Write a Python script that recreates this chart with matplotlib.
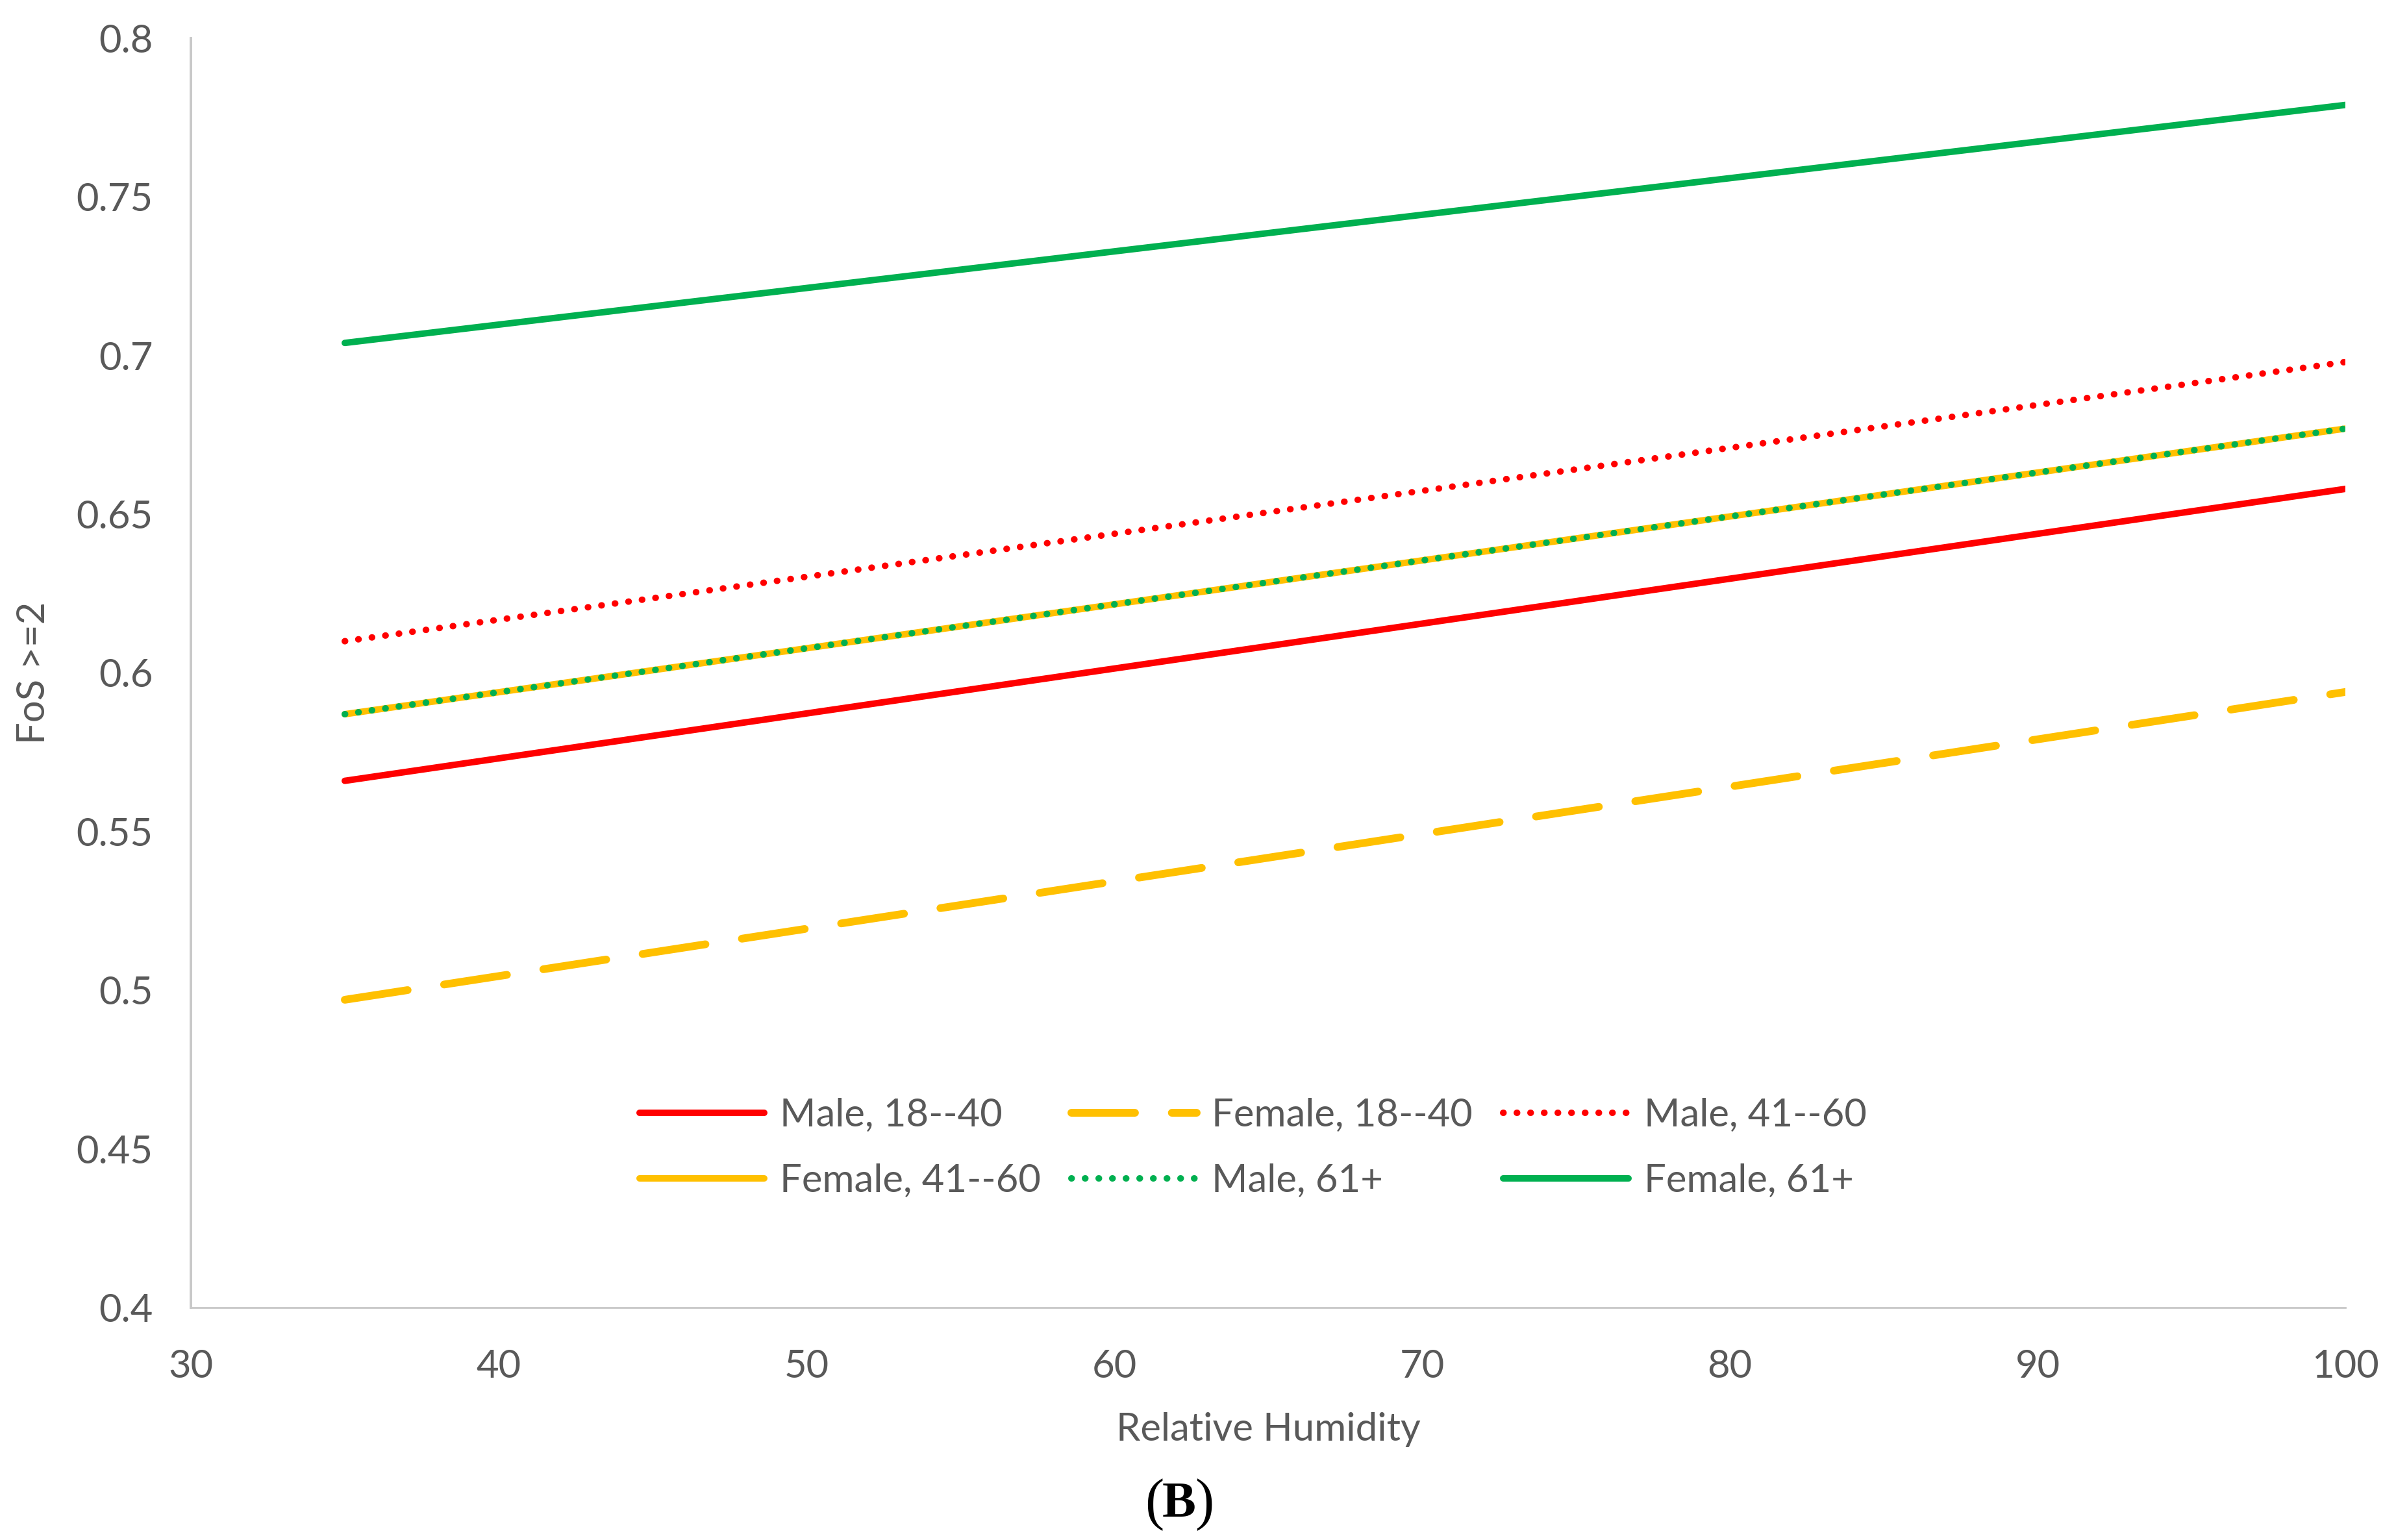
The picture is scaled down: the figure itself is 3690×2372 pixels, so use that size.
import matplotlib
matplotlib.use("Agg")
import matplotlib.pyplot as plt
import numpy as np

plt.rcParams['font.family'] = ['Lato', 'DejaVu Sans']

# ---- data ----
humidity = [35, 100]
series_labels = ["Male, 18--40", "Female, 18--40", "Male, 41--60",
                 "Female, 41--60", "Male, 61+", "Female, 61+"]
male_18_40 = [0.566, 0.658]
female_18_40 = [0.497, 0.594]
male_41_60 = [0.610, 0.698]
female_41_60 = [0.587, 0.677]
male_61 = [0.587, 0.677]
female_61 = [0.704, 0.779]
x_ticks = [30, 40, 50, 60, 70, 80, 90, 100]
y_ticks = [0.4, 0.45, 0.5, 0.55, 0.6, 0.65, 0.7, 0.75, 0.8]
y_tick_labels = ["0.4", "0.45", "0.5", "0.55", "0.6", "0.65", "0.7", "0.75", "0.8"]

RED = "#FF0000"
ORANGE = "#FFC000"
GREEN = "#00B050"
TXT = "#595959"

W, H = 3690, 2372
fig = plt.figure(figsize=(W / 100, H / 100), dpi=100)
ax = fig.add_axes([294 / W, 1 - 2014 / H, (3612 - 294) / W, (2014 - 59) / H])

lw = 7.2
h1, = ax.plot(humidity, male_18_40, color=RED, lw=lw, solid_capstyle='round',
              label=series_labels[0])
h2, = ax.plot(humidity, female_18_40, color=ORANGE, lw=8.6, dash_capstyle='round',
              dashes=(8.2, 4.75), label=series_labels[1])
h3, = ax.plot(humidity, male_41_60, color=RED, lw=lw, dash_capstyle='round',
              dashes=(0.05, 2.05), label=series_labels[2])
h4, = ax.plot(humidity, female_41_60, color=ORANGE, lw=lw, solid_capstyle='round',
              label=series_labels[3])
h5, = ax.plot(humidity, male_61, color=GREEN, lw=lw, dash_capstyle='round',
              dashes=(0.05, 2.05), label=series_labels[4])
h6, = ax.plot(humidity, female_61, color=GREEN, lw=lw, solid_capstyle='round',
              label=series_labels[5])

ax.set_xlim(30, 100)
ax.set_ylim(0.4, 0.8)
ax.set_xticks(x_ticks)
ax.set_xticklabels([str(v) for v in x_ticks])
ax.set_yticks(y_ticks)
ax.set_yticklabels(y_tick_labels)

fs = 43
ax.tick_params(axis='both', length=0, labelsize=fs, labelcolor=TXT)
ax.tick_params(axis='y', pad=42)
ax.tick_params(axis='x', pad=46)

for s in ['top', 'right']:
    ax.spines[s].set_visible(False)
ax.spines['left'].set_color('#C8C8C8')
ax.spines['left'].set_linewidth(2.8)
ax.spines['bottom'].set_color('#C8C8C8')
ax.spines['bottom'].set_linewidth(2.0)

ax.set_xlabel("Relative Humidity", fontsize=fs, color=TXT, labelpad=31)
ax.set_ylabel("FoS >=2", fontsize=fs, color=TXT, va='center')
ax.yaxis.set_label_coords(-0.0729, 0.5)

handles = [h1, h4, h2, h5, h3, h6]
leg = ax.legend(handles=handles, labels=[h.get_label() for h in handles],
                loc='upper left', bbox_to_anchor=(985 / W, 1 - 1691 / H),
                bbox_transform=fig.transFigure, ncol=3, frameon=False,
                borderpad=0, borderaxespad=0, handlelength=3.22,
                handletextpad=0.4, columnspacing=0.79, labelspacing=0.78,
                fontsize=fs)
for t in leg.get_texts():
    t.set_color(TXT)

cy = 1 - 2318 / H
fig.text(1816 / W, cy, "B", family=['Liberation Serif', 'DejaVu Serif'],
         weight='bold', fontsize=56, ha='center', va='center', color='black')
fig.text(1792 / W, cy, "(", family=['Liberation Serif', 'DejaVu Serif'],
         fontsize=63, ha='right', va='center', color='black')
fig.text(1840 / W, cy, ")", family=['Liberation Serif', 'DejaVu Serif'],
         fontsize=63, ha='left', va='center', color='black')

fig.savefig("out.png", dpi=100, facecolor='white')
